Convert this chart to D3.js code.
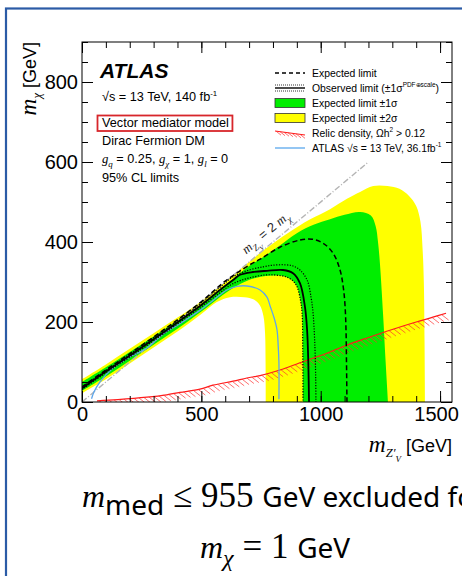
<!DOCTYPE html>
<meta charset="utf-8">
<html lang="en">
<head>
    <title>Vector mediator DM limits</title>
    <script src="https://d3js.org/d3.v7.min.js"></script>
    <style>
        body {
            margin: 0;
            background-color: #fff;
        }
        svg {
            display: block;
            font-family: "Liberation Sans", Arial, sans-serif;
        }
    </style>
</head>
<body>
    <svg width="462" height="576"></svg>
    <script>
        // Tick values
        var xMajor = [0, 500, 1000, 1500];
        var yMajor = [0, 200, 400, 600, 800];

        // Contours, [mZ', mchi] in GeV
        var yellowOuter = [[0, 57], [100, 94], [200, 133], [300, 172], [400, 211], [500, 252], [600, 300], [700, 350],
            [758, 378], [820, 405], [900, 437], [960, 458], [1039, 482], [1110, 508], [1165, 525], [1220, 540],
            [1280, 540], [1330, 533], [1370, 515], [1400, 490], [1418, 450], [1427, 380], [1432, 300], [1435, 150], [1437, 0]];
        var greenOuter = [[0, 50], [100, 87], [200, 125], [300, 164], [400, 203], [500, 244], [600, 292], [700, 340],
            [758, 362], [830, 392], [900, 422], [970, 443], [1039, 457], [1100, 468], [1165, 475], [1210, 466],
            [1230, 440], [1240, 400], [1248, 347], [1261, 222], [1272, 100], [1282, 0]];
        var greenInner = [[0, 28], [100, 64], [200, 103], [300, 143], [400, 183], [500, 226], [560, 254], [620, 280],
            [680, 300], [740, 312], [800, 316], [850, 314], [885, 302], [901, 288], [915, 255], [922, 222], [925, 120], [926, 0]];
        var yellowInner = [[0, 22], [100, 57], [200, 96], [300, 136], [400, 176], [500, 220], [565, 250], [620, 262],
            [680, 262], [720, 256], [745, 242], [760, 215], [767, 170], [769, 100], [770, 0]];

        var observed = [[0, 34], [100, 76], [215, 122], [355, 180], [494, 240], [578, 280], [633, 305], [662, 318],
            [716, 325], [775, 328], [842, 330], [884, 322], [913, 297], [934, 238], [943, 180], [948, 100], [951, 0]];
        var observedUp = [[0, 37], [100, 79], [215, 126], [355, 184], [494, 245], [578, 287], [633, 313], [700, 330],
            [760, 338], [800, 342], [850, 343], [884, 340], [913, 330], [943, 305], [960, 260], [968, 222], [975, 150], [979, 60], [980, 0]];
        var observedDown = [[0, 31], [100, 73], [215, 118], [355, 176], [494, 235], [578, 273], [633, 296], [700, 310],
            [775, 318], [830, 316], [859, 312], [885, 302], [901, 288], [915, 255], [922, 222], [925, 120], [926, 0]];
        var expected = [[0, 38], [100, 80], [215, 127], [355, 186], [494, 248], [600, 302], [700, 342], [746, 357],
            [829, 387], [913, 405], [964, 407], [1010, 397], [1052, 372], [1081, 330], [1095, 285], [1102, 240], [1106, 180], [1108, 100], [1110, 0]];
        var atlas36 = [[40, 8], [50, 25], [75, 50], [130, 85], [201, 113], [272, 135], [339, 170], [410, 196], [494, 229],
            [549, 254], [607, 280], [649, 289], [691, 290], [746, 280], [775, 262], [788, 240], [805, 210], [817, 180], [822, 140], [825, 97], [825, 7]];
        var relic = [[63, 3], [150, 6], [272, 12], [355, 18], [410, 24], [494, 32], [549, 42], [633, 52], [691, 60], [746, 66],
            [829, 80], [913, 98], [1026, 122], [1100, 140], [1194, 160], [1303, 182], [1400, 200], [1470, 212], [1525, 222]];
        var diagonal = [[0, 0], [1200, 600]];

        var serif = "'Liberation Serif', 'Times New Roman', serif";
        var sansText = "'Noto Sans', sans-serif";

        var svg = d3.select("svg");

        var x = d3.scaleLinear().domain([0, 1550]).range([82, 452]),
            y = d3.scaleLinear().domain([0, 900]).range([402, 42]);

        // Blue slide border
        svg.append("rect")
            .attr("x", 6).attr("y", 8.5)
            .attr("width", 500).attr("height", 620)
            .attr("fill", "none")
            .attr("stroke", "#2b5ba6")
            .attr("stroke-width", 2.2);

        svg.append("defs").append("clipPath").attr("id", "plotClip")
            .append("rect")
            .attr("x", x(0)).attr("y", y(900))
            .attr("width", x(1550) - x(0)).attr("height", y(0) - y(900));

        var plot = svg.append("g").attr("clip-path", "url(#plotClip)");

        var line = d3.line()
            .x(function(d) { return x(d[0]); })
            .y(function(d) { return y(d[1]); })
            .curve(d3.curveCatmullRom.alpha(0.5));

        function closed(pts) {
            return line(pts) + "L" + x(0) + "," + y(0) + "Z";
        }

        // Bands: outer 2 sigma, 1 sigma, then punch the inner parts
        plot.append("path").attr("d", closed(yellowOuter)).attr("fill", "#ffff00");
        plot.append("path").attr("d", closed(greenOuter)).attr("fill", "#00ee00");
        plot.append("path").attr("d", closed(greenInner)).attr("fill", "#ffff00");
        plot.append("path").attr("d", closed(yellowInner)).attr("fill", "#fff");

        // m_Z = 2 m_chi
        plot.append("path")
            .attr("d", d3.line().x(function(d) { return x(d[0]); }).y(function(d) { return y(d[1]); })(diagonal))
            .attr("fill", "none")
            .attr("stroke", "#b4b4b4")
            .attr("stroke-width", 1.4)
            .attr("stroke-dasharray", "6,2,1,2");

        // Relic density with hatching
        var relicPath = plot.append("path")
            .attr("d", line(relic))
            .attr("fill", "none")
            .attr("stroke", "#ff1a1a")
            .attr("stroke-width", 1.2);

        var node = relicPath.node(),
            total = node.getTotalLength(),
            hatches = d3.range(2, total, 5).map(function(l) { return node.getPointAtLength(l); });

        plot.append("g").selectAll("line")
            .data(hatches)
            .enter().append("line")
            .attr("x1", function(d) { return d.x; })
            .attr("y1", function(d) { return d.y; })
            .attr("x2", function(d) { return d.x + 7; })
            .attr("y2", function(d) { return d.y + 5.5; })
            .attr("stroke", "#ff3030")
            .attr("stroke-width", 0.7);

        // Previous result
        plot.append("path").attr("d", line(atlas36))
            .attr("fill", "none").attr("stroke", "#5ea6ea").attr("stroke-width", 1.3);

        // Observed +-1 sigma theory
        [observedUp, observedDown].forEach(function(c) {
            plot.append("path").attr("d", line(c))
                .attr("fill", "none").attr("stroke", "#000").attr("stroke-width", 1.2)
                .attr("stroke-dasharray", "1.2,1.5");
        });

        plot.append("path").attr("d", line(observed))
            .attr("fill", "none").attr("stroke", "#000").attr("stroke-width", 1.8);

        plot.append("path").attr("d", line(expected))
            .attr("fill", "none").attr("stroke", "#000").attr("stroke-width", 1.5)
            .attr("stroke-dasharray", "5,3");

        // Frame
        svg.append("rect")
            .attr("x", x(0)).attr("y", y(900))
            .attr("width", x(1550) - x(0)).attr("height", y(0) - y(900))
            .attr("fill", "none").attr("stroke", "#000").attr("stroke-width", 1);

        // Axes, ticks pointing inwards on all sides
        function drawAxis(gen, scale, tr, values, size, labels, pad) {
            var a = gen(scale).tickValues(values).tickSizeInner(-size).tickSizeOuter(0).tickPadding(pad || 3)
                .tickFormat(labels ? d3.format("d") : "");
            var g = svg.append("g").attr("transform", tr).call(a);
            g.select(".domain").remove();
            g.selectAll("line").attr("stroke", "#000");
            g.selectAll("text")
                .style("font-family", "'Liberation Sans', Arial, sans-serif")
                .style("font-size", "20px")
                .attr("fill", "#000");
            return g;
        }

        var xMinor = d3.range(0, 1551, 100),
            yMinor = d3.range(0, 901, 50);

        drawAxis(d3.axisBottom, x, "translate(0," + y(0) + ")", xMinor, 6, false);
        drawAxis(d3.axisBottom, x, "translate(0," + y(0) + ")", xMajor, 11, true, 5)
            .selectAll("text")
            .attr("dx", function(d) { return d === 1500 ? -4 : 0; });
        drawAxis(d3.axisTop, x, "translate(0," + y(900) + ")", xMinor, 6, false);
        drawAxis(d3.axisTop, x, "translate(0," + y(900) + ")", xMajor, 11, false);
        drawAxis(d3.axisLeft, y, "translate(" + x(0) + ",0)", yMinor, 6, false);
        drawAxis(d3.axisLeft, y, "translate(" + x(0) + ",0)", yMajor, 11, true, 4);
        drawAxis(d3.axisRight, y, "translate(" + x(1550) + ",0)", yMinor, 6, false);
        drawAxis(d3.axisRight, y, "translate(" + x(1550) + ",0)", yMajor, 11, false);

        // Text with sub/superscripts, parts = [text, kind]
        function rich(sel, parts, size) {
            var shift = 0;
            parts.forEach(function(p) {
                var kind = p[1] || "n",
                    target = 0,
                    fs = size;
                if (kind.indexOf("sub2") >= 0) { target = 0.55 * size; fs = 0.5 * size; }
                else if (kind.indexOf("sub") >= 0) { target = 0.3 * size; fs = 0.7 * size; }
                if (kind.indexOf("sup") >= 0) { target = -0.42 * size; fs = 0.62 * size; }
                if (kind === "iL") fs = 1.3 * size;
                var t = sel.append("tspan")
                    .attr("dy", (target - shift).toFixed(2))
                    .attr("font-size", fs)
                    .text(p[0]);
                if (kind.charAt(0) === "i") t.attr("font-style", "italic").attr("font-family", serif);
                shift = target;
            });
            return sel;
        }

        // Axis titles
        rich(svg.append("text")
            .attr("transform", "translate(36," + y(900) + ") rotate(-90)")
            .attr("text-anchor", "end"),
            [["m", "iL"], ["χ", "isub"], [" [GeV]"]], 18);

        rich(svg.append("text")
            .attr("x", x(1550)).attr("y", 452)
            .attr("text-anchor", "end"),
            [["m", "iL"], ["Z′", "isub"], ["V", "isub2"], [" [GeV]"]], 18);

        // Diagonal label
        rich(svg.append("text")
            .attr("transform", "translate(" + x(780) + "," + y(415) + ") rotate(-40)")
            .attr("text-anchor", "middle")
            .attr("fill", "#222"),
            [["m", "i"], ["Z", "isub"], ["V", "isub2"], [" = 2 "], ["m", "i"], ["χ", "isub"]], 13);

        // ATLAS block
        svg.append("text")
            .attr("x", 100).attr("y", 78)
            .style("font-size", "21px")
            .style("font-weight", "bold")
            .style("font-style", "italic")
            .text("ATLAS");

        var info = [
            [["√s = 13 TeV, 140 fb"], ["-1", "sup"]],
            [["Vector mediator model"]],
            [["Dirac Fermion DM"]],
            [["g", "i"], ["q", "isub"], [" = 0.25, "], ["g", "i"], ["χ", "isub"], [" = 1, "], ["g", "i"], ["l", "isub"], [" = 0"]],
            [["95% CL limits"]]
        ];
        var infoY = [101, 127, 145, 163, 182];

        info.forEach(function(parts, i) {
            var t = rich(svg.append("text").attr("x", 102).attr("y", infoY[i]), parts, 12.7);
            if (i === 1) {
                var b = t.node().getBBox();
                svg.append("rect")
                    .attr("x", b.x - 4.5).attr("y", b.y - 0.5)
                    .attr("width", b.width + 8).attr("height", b.height + 1.5)
                    .attr("fill", "none")
                    .attr("stroke", "#d7262b")
                    .attr("stroke-width", 1.8);
            }
        });

        // Legend
        var legendText = [
            [["Expected limit"]],
            [["Observed limit (±1σ"], ["PDF⊕scale", "sup"], [")"]],
            [["Expected limit ±1σ"]],
            [["Expected limit ±2σ"]],
            [["Relic density, Ωh"], ["2", "sup"], [" > 0.12"]],
            [["ATLAS √s = 13 TeV, 36.1fb"], ["-1", "sup"]]
        ];

        var ly = d3.scalePoint().domain(d3.range(legendText.length)).range([73, 148]),
            lx0 = 275,
            lx1 = 305;

        var legend = svg.append("g");

        legendText.forEach(function(parts, i) {
            rich(legend.append("text").attr("x", 312).attr("y", ly(i) + 3.6), parts, 10.4);
        });

        legend.append("line").attr("x1", lx0).attr("x2", lx1).attr("y1", ly(0)).attr("y2", ly(0))
            .attr("stroke", "#000").attr("stroke-width", 1.3).attr("stroke-dasharray", "4,3");

        legend.append("line").attr("x1", lx0).attr("x2", lx1).attr("y1", ly(1)).attr("y2", ly(1))
            .attr("stroke", "#000").attr("stroke-width", 1.4);
        [-3, 3].forEach(function(o) {
            legend.append("line").attr("x1", lx0).attr("x2", lx1).attr("y1", ly(1) + o).attr("y2", ly(1) + o)
                .attr("stroke", "#000").attr("stroke-width", 0.8).attr("stroke-dasharray", "1,1");
        });

        [["#00ee00", 2], ["#ffff00", 3]].forEach(function(c) {
            legend.append("rect")
                .attr("x", lx0).attr("y", ly(c[1]) - 4.5)
                .attr("width", lx1 - lx0).attr("height", 9)
                .attr("fill", c[0]).attr("stroke", "#333").attr("stroke-width", 0.8);
        });

        legend.append("line").attr("x1", lx0).attr("x2", lx1).attr("y1", ly(4) - 2).attr("y2", ly(4) + 2)
            .attr("stroke", "#ff1a1a").attr("stroke-width", 1.2);
        legend.append("g").selectAll("line")
            .data(d3.range(lx0 + 1, lx1 - 4, 4))
            .enter().append("line")
            .attr("x1", function(d) { return d; })
            .attr("y1", function(d) { return ly(4) - 2 + 4 * (d - lx0) / (lx1 - lx0); })
            .attr("x2", function(d) { return d + 5; })
            .attr("y2", function(d) { return ly(4) + 2 + 4 * (d - lx0) / (lx1 - lx0); })
            .attr("stroke", "#ff3030").attr("stroke-width", 0.7);

        legend.append("line").attr("x1", lx0).attr("x2", lx1).attr("y1", ly(5)).attr("y2", ly(5))
            .attr("stroke", "#7ab8f0").attr("stroke-width", 1.6);

        // Summary below the plot (runs past the right edge, as on the slide)
        var line1 = svg.append("text").attr("x", 82).attr("y", 507);
        line1.append("tspan").attr("font-family", serif).attr("font-style", "italic").attr("font-size", 32).text("m");
        line1.append("tspan").attr("font-family", sansText).attr("font-size", 28).attr("dy", 8).text("med");
        line1.append("tspan").attr("font-family", serif).attr("font-size", 35).attr("dy", -8).text(" ≤ 955 ");
        line1.append("tspan").attr("font-family", sansText).attr("font-size", 28).text("GeV excluded for");

        var line2 = svg.append("text").attr("x", 200).attr("y", 558);
        line2.append("tspan").attr("font-family", serif).attr("font-style", "italic").attr("font-size", 32).text("m");
        line2.append("tspan").attr("font-family", serif).attr("font-style", "italic").attr("font-size", 24).attr("dy", 8).text("χ");
        line2.append("tspan").attr("font-family", serif).attr("font-size", 35).attr("dy", -8).text(" = 1 ");
        line2.append("tspan").attr("font-family", sansText).attr("font-size", 28).text("GeV");
    </script>
</body>
</html>
